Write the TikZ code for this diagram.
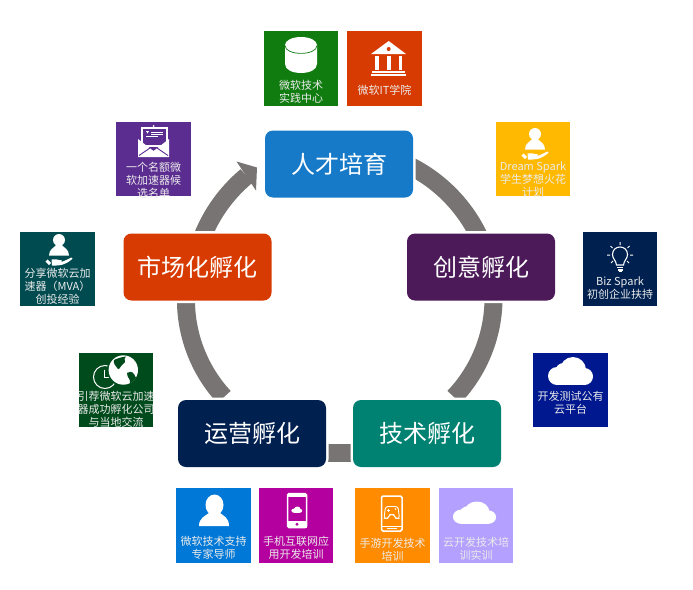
\documentclass[tikz,border=0pt]{standalone}
\usepackage{fontspec}
\setmainfont{Noto Sans CJK SC}
\usetikzlibrary{backgrounds}
\definecolor{ringgray}{HTML}{777473}
\definecolor{cBlue}{HTML}{167AC8}
\definecolor{cOrange}{HTML}{D83B01}
\definecolor{cPlum}{HTML}{4C1A58}
\definecolor{cNavy}{HTML}{002050}
\definecolor{cTeal}{HTML}{008272}
\definecolor{tGreen}{HTML}{107C10}
\definecolor{tPurple}{HTML}{5C2D91}
\definecolor{tYellow}{HTML}{FFB900}
\definecolor{tDeep}{HTML}{00188F}
\definecolor{tSea}{HTML}{004B50}
\definecolor{tForest}{HTML}{004B1C}
\definecolor{tAzure}{HTML}{0078D7}
\definecolor{tMag}{HTML}{B4009E}
\definecolor{tAmber}{HTML}{FF8C00}
\definecolor{tLav}{HTML}{B4A0FF}
\tikzset{
  mainbox/.style={rounded corners=8pt,minimum width=148pt,minimum height=67pt,inner sep=0pt,outer sep=0pt,
    text=white,font=\fontsize{24}{28}\selectfont,preaction={draw=white,line width=5pt}},
  tile/.style={minimum width=74.5pt,minimum height=74.5pt,inner sep=0pt,outer sep=0pt},
  tiletext/.style={text=white!92!black,align=center,inner sep=0pt,font=\fontsize{11}{13}\selectfont},
  ringseg/.style={draw=ringgray,line width=18pt,line cap=butt},
}
\newcommand{\cloudicon}[5]{%
  \begin{scope}[shift={(#1,#2)},xscale=#3,yscale=#4]
    \fill[#5] (-13.5,19) circle[radius=9];
    \fill[#5] (-7,14) circle[radius=8];
    \fill[#5] (2.5,13) circle[radius=13];
    \fill[#5] (14,19.5) circle[radius=8.5];
    \fill[#5] (-13.5,14) rectangle (14,28);
  \end{scope}}
\newcommand{\personhand}[2]{%
  \begin{scope}[shift={(#1,#2)}]
    \fill[white] (0,0) circle[radius=6];
    \fill[white] (-10,15.5) .. controls (-10,9) and (-5,8) .. (-3,5) -- (3,5) .. controls (5,8) and (10,9) .. (10,15.5) -- cycle;
    \draw[white,line width=3pt] (-12.5,20.5) -- (-9,24);
    \fill[white] (-7.5,19.5) .. controls (-4,18.5) and (-1,20) .. (3,20.5) -- (2,22) .. controls (6,21) and (9,19) .. (12.5,17.5) -- (13.5,18.8) .. controls (8,24) and (2,26) .. (-7,25.5) -- cycle;
  \end{scope}}
\begin{document}
\begin{tikzpicture}[x=1pt,y=-1pt]
\useasboundingbox (0,0) rectangle (693,589);

% main boxes
\node[mainbox,fill=cBlue] (talent) at (339,164) {人才培育};
\node[mainbox,fill=cPlum] (idea) at (481,267) {创意孵化};
\node[mainbox,fill=cTeal] (tech) at (427,433.5) {技术孵化};
\node[mainbox,fill=cNavy] (ops) at (252,433.5) {运营孵化};
\node[mainbox,fill=cOrange] (market) at (197.5,267) {市场化孵化};

\coordinate (neck) at (246.5,176);
\coordinate (headA) at (236.5,161.5);
\coordinate (headB) at (256,190.5);
\coordinate (tip) at ([xshift=-8pt,yshift=-3.5pt]talent.west);

% ring segments lie behind the boxes
\begin{scope}[on background layer]
\fill[white] (0,0) rectangle (693,589);
\draw[ringseg] ([xshift=-3pt,yshift=-2pt]talent.east) to[bend left=19,looseness=.87] ([xshift=-2pt,yshift=-3pt]idea.north);
\draw[ringseg] ([xshift=12.5pt,yshift=3pt]idea.south) to[bend left=22,looseness=.88] ([xshift=27pt,yshift=3pt]tech.north);
\draw[ringseg] ([yshift=-19.5pt]tech.west) -- ([yshift=-19.5pt]ops.east);
\draw[ringseg] ([xshift=-28pt,yshift=3pt]ops.north) to[bend left=22,looseness=.88] ([xshift=-11.5pt,yshift=3pt]market.south);
\draw[ringseg] ([xshift=5pt,yshift=-3pt]market.north) to[bend left=14,looseness=.87] (neck);
\fill[ringgray] (headA) -- (tip) -- (headB) -- cycle;
\end{scope}

% tiles
\node[tile,fill=tGreen] (tA) at (301,68.5) {};
\node[tile,fill=cOrange] (tB) at (384.5,68.5) {};
\node[tile,fill=tPurple] (tC) at (153.5,159) {};
\node[tile,fill=tYellow] (tD) at (533,159) {};
\node[tile,fill=cNavy] (tE) at (620,269) {};
\node[tile,fill=tDeep] (tF) at (570.5,390) {};
\node[tile,fill=tSea] (tG) at (57.5,269) {};
\node[tile,fill=tForest] (tH) at (116,390) {};
\node[tile,fill=tAzure] (tI) at (213.5,525.5) {};
\node[tile,fill=tMag] (tJ) at (296,525.5) {};
\node[tile,fill=tAmber] (tK) at (392.5,525.5) {};
\node[tile,fill=tLav] (tL) at (476,525.5) {};

% cylinder
\fill[white] (285,45) -- (285,64) .. controls (285,76) and (317,76) .. (317,64) -- (317,45) -- cycle;
\fill[white] (301,45) ellipse[x radius=16,y radius=8];
\draw[tGreen,line width=.7pt] (285,45.5) .. controls (285,56) and (317,56) .. (317,45.5);

% bank
\fill[white] (388.7,41) -- (406,54) -- (371,54) -- cycle;
\fill[cOrange] (388.7,49) circle[radius=2];
\fill[white] (375,56) rectangle (378.5,70);
\fill[white] (387,56) rectangle (391,70);
\fill[white] (398.5,56) rectangle (402,70);
\fill[white] (372,71) rectangle (405,72.6);
\fill[white] (371,73.6) rectangle (406,75.6);

% envelope
\draw[white,line width=1.1pt] (142,128) rectangle (167,146);
\fill[white] (153.5,126) circle[radius=1];
\fill[white] (146,131) -- (149,131) -- (147.5,133.5) -- cycle;
\draw[white,line width=.5pt] (151,132) -- (163,132) (151,134.5) -- (163,134.5);
\draw[white,line width=.5pt] (146,136) -- (158,136);
\fill[white] (138,139) -- (153.5,151) -- (169,139) -- (169,157) -- (138,157) -- cycle;
\draw[tPurple,line width=.9pt] (139,155.5) -- (150,148) (168,155.5) -- (157,148);

% person with hand
\personhand{535}{134}
\personhand{59}{240}

% bulb
\draw[white,line width=1.1pt] (616.5,265) .. controls (616,260) and (612.5,259) .. (612.5,254.5) .. controls (612.5,244.5) and (627.5,244.5) .. (627.5,254.5) .. controls (627.5,259) and (624,260) .. (623.5,265) -- cycle;
\fill[white] (617,266.5) rectangle (623,268);
\fill[white] (617.5,269) rectangle (622.5,270.5);
\fill[white] (618.5,271) rectangle (621.5,272);
\draw[white,line width=1pt] (620,242) -- (620,245) (610.5,246) -- (612.5,248) (629.5,246) -- (627.5,248)
  (607,255) -- (610,255) (633,255) -- (630,255) (611,263) -- (613,261) (629,263) -- (627,261);

% clouds
\cloudicon{570.5}{357}{1}{1}{white}
\cloudicon{474.5}{501.5}{.96}{.8}{white}

% globe and clock
\draw[white,line width=1pt] (105,377) circle[radius=11.5];
\draw[white,line width=1pt] (104.5,369.5) -- (104.5,377.5) -- (110,377.5);
\fill[tForest] (123.3,370) circle[radius=16.3];
\fill[white] (123.3,370) circle[radius=14.7];
\fill[tForest] (114,360) .. controls (118,358) and (122,357) .. (126,356.5) .. controls (122,360) and (128,361) .. (123,364) .. controls (120,365) and (121,369) .. (118,369) .. controls (116,366) and (113,364) .. (114,360) -- cycle;
\fill[tForest] (127,373) .. controls (132,370) and (134,373) .. (136,378) .. controls (134,381) and (132,382) .. (130,383.5) .. controls (131,379) and (127,378) .. (127,373) -- cycle;

% bust
\fill[white] (214.5,505) ellipse[x radius=9,y radius=10.5];
\fill[white] (199,526) .. controls (199,518) and (205,516) .. (209,513) -- (220,513) .. controls (224,516) and (229,518) .. (229,526) -- cycle;

% phone
\draw[white,line width=1.5pt,rounded corners=1.5pt] (287.5,493.5) rectangle (306.5,527.5);
\fill[white] (287.5,493.5) rectangle (306.5,496.5);
\fill[white] (287.5,521) rectangle (306.5,527.5);
\fill[tMag] (297,524.2) circle[radius=1.6];
\cloudicon{296.8}{506.5}{.24}{.22}{white}

% game phone
\draw[white,line width=1.5pt,rounded corners=1.5pt] (381.5,496) rectangle (402,531);
\fill[white] (381.5,526) rectangle (402,527.3);
\fill[white] (387,528.3) rectangle (396.5,529.3);
\draw[white,line width=.9pt,rounded corners=2.5pt] (384,518.5) -- (385.5,506.5) -- (398,506.5) -- (399.5,518.5) -- (395.5,518.5) -- (394,514.5) -- (389.5,514.5) -- (388,518.5) -- cycle;
\draw[white,line width=.6pt] (386.5,510) -- (389.5,510) (388,508.5) -- (388,511.5);
\fill[white] (395.5,509) circle[radius=.9];

% tile texts
\node[tiletext] (lA) at (301,91.5) {微软技术\\实践中心};
\node[tiletext] (lB) at (384.5,90) {微软IT学院};
\node[tiletext] (lC) at (153.5,180) {一个名额微\\软加速器候\\选名单};
\node[tiletext] (lD) at (533,180) {Dream Spark\\学生梦想火花\\计划};
\node[tiletext] (lE) at (620,288.5) {Biz Spark\\初创企业扶持};
\node[tiletext] (lF) at (570.5,402.5) {开发测试公有\\云平台};
\node[tiletext] (lG) at (57.5,286) {分享微软云加\\速器（MVA）\\创投经验};
\node[tiletext] (lH) at (116,409) {引荐微软云加速\\器成功孵化公司\\与当地交流};
\node[tiletext] (lI) at (213.5,548) {微软技术支持\\专家导师};
\node[tiletext] (lJ) at (296,548) {手机互联网应\\用开发培训};
\node[tiletext] (lK) at (392.5,549.5) {手游开发技术\\培训};
\node[tiletext] (lL) at (476,548.5) {云开发技术培\\训实训};
\end{tikzpicture}
\end{document}
